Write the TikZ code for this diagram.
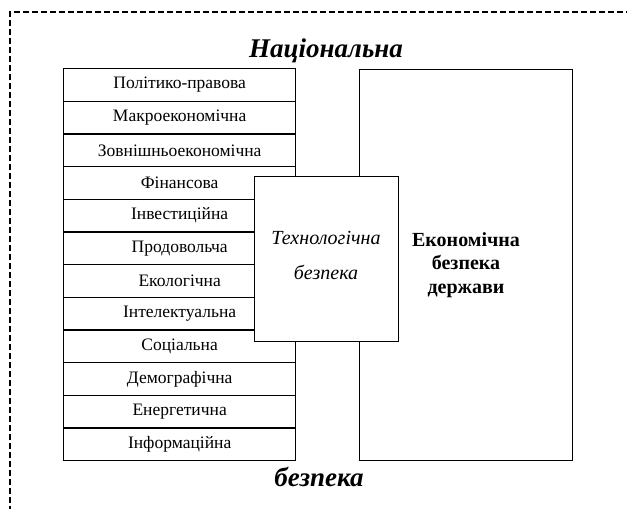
\documentclass[tikz,border=0pt]{standalone}
\usepackage{fontspec}
\setmainfont{Liberation Serif}
\begin{document}
\begin{tikzpicture}[x=1pt,y=-1pt,
  rowbox/.style={draw,line width=1.3pt,minimum width=232pt,minimum height=32.67pt,inner sep=0pt,anchor=north west,font=\fontsize{17.5}{20}\selectfont},
  bigbox/.style={draw,line width=1.3pt,inner sep=0pt,anchor=north west},
  title/.style={font=\fontsize{27}{30}\selectfont\bfseries\itshape}]
\useasboundingbox (0,0) rectangle (627,509);
\begin{scope}
\clip (0,0) rectangle (627,509);
\draw[line width=1.8pt,dash pattern=on 6pt off 3pt] (10,530) -- (10,12) -- (640,12);
\end{scope}
\node[title] (t1) at (326,51) {Національна};
\node[title] (t2) at (319,477) {безпека};
\foreach \i/\t in {0/Політико-правова,1/Макроекономічна,2/Зовнішньоекономічна,3/Фінансова,4/Інвестиційна,5/Продовольча,6/Екологічна,7/Інтелектуальна,8/Соціальна,9/Демографічна,10/Енергетична,11/Інформаційна}{
  \node[rowbox] (r\i) at (63,{68+32.67*\i}) {\t};
}
\node[bigbox,minimum width=213pt,minimum height=391pt] (eco) at (359,69) {};
\node[align=center,font=\fontsize{20}{23.5}\selectfont\bfseries] (ecot) at (466,265) {Економічна\\безпека\\держави};
\node[bigbox,fill=white,minimum width=144pt,minimum height=165pt] (tech) at (254,176) {};
\node[align=center,font=\fontsize{20}{35}\selectfont\itshape] (techt) at (326,255) {Технологічна\\безпека};
\end{tikzpicture}
\end{document}
